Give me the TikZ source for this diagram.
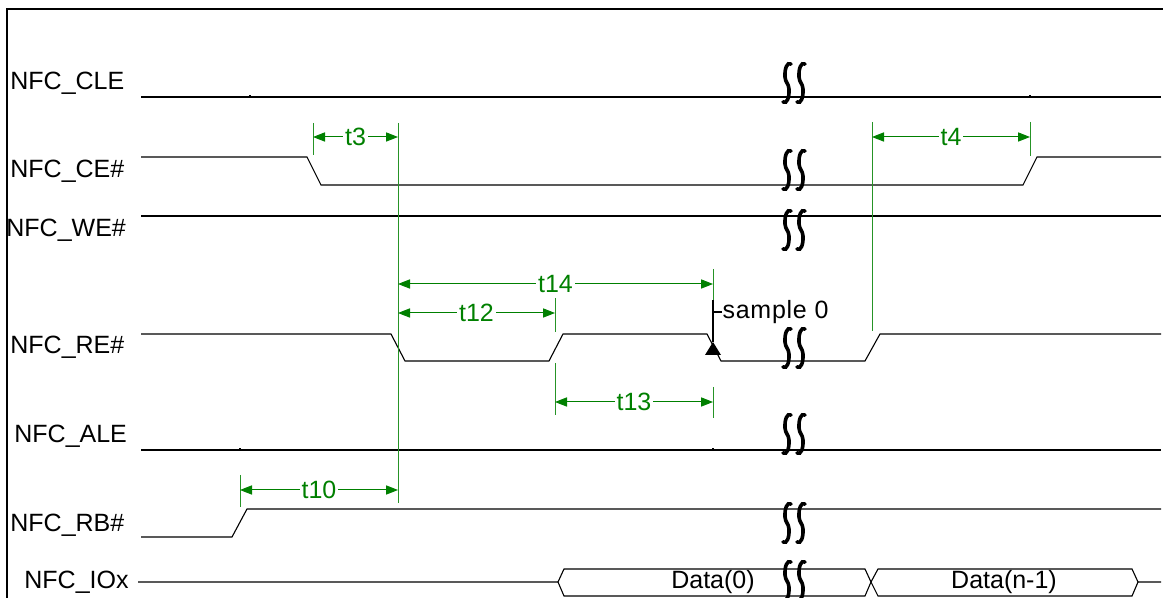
\documentclass[tikz,border=0pt]{standalone}
\usepackage{fontspec}
\setmainfont{Liberation Sans}
\usetikzlibrary{arrows.meta}
\definecolor{dimgreen}{RGB}{0,128,0}
\tikzset{
  sig/.style={black, line width=0.55pt},
  siglbl/.style={anchor=base west, inner sep=0pt, font=\fontsize{12.5}{14}\selectfont},
  dim/.style={dimgreen, line width=0.5pt, {Triangle[length=6pt,width=4.6pt]}-{Triangle[length=6pt,width=4.6pt]}},
  dimlbl/.style={midway, fill=white, inner sep=1pt, text=dimgreen, font=\fontsize{12.5}{14}\selectfont},
  reftick/.style={dimgreen!85, line width=0.5pt},
  pics/brk/.style={code={
    \draw[line width=1.8pt, line cap=round] (4,1) .. controls (0,-1.5) and (-2.5,6) .. (-2,14)
      .. controls (-1.5,20) and (1.5,20) .. (2,26) .. controls (2.5,34) and (0,41.5) .. (-4,39);
    \draw[line width=1.8pt, line cap=round, shift={(14,0)}] (4,1) .. controls (0,-1.5) and (-2.5,6) .. (-2,14)
      .. controls (-1.5,20) and (1.5,20) .. (2,26) .. controls (2.5,34) and (0,41.5) .. (-4,39);
  }}
}
\begin{document}
\begin{tikzpicture}[x=0.5pt, y=-0.5pt]
  \useasboundingbox (0,0) rectangle (1163,598);
  \draw[line width=1.3pt] (7,598) -- (7,9) -- (1163,9);

  % signal names
  \node[siglbl] (cle) at (10,90)  {NFC\_CLE};
  \node[siglbl] (ce)  at (10,178) {NFC\_CE\#};
  \node[siglbl] (we)  at (6,237)  {NFC\_WE\#};
  \node[siglbl] (re)  at (10,354) {NFC\_RE\#};
  \node[siglbl] (ale) at (14,443) {NFC\_ALE};
  \node[siglbl] (rb)  at (10,532) {NFC\_RB\#};
  \node[siglbl] (iox) at (24,589) {NFC\_IOx};

  % waveforms
  \begin{scope}[sig]
    \draw (141,97) -- (1161,97);
    \draw (141,157) -- (307,157) -- (321,185) -- (1023,185) -- (1037,157) -- (1161,157);
    \draw (141,216) -- (1161,216);
    \draw (141,334) -- (391,334) -- (405,361) -- (549,361) -- (563,334) -- (707,334)
      -- (721,361) -- (865,361) -- (880,334) -- (1161,334);
    \draw (141,450) -- (1161,450);
    \draw (141,537) -- (232,537) -- (247,509) -- (1161,509);
    \draw (138,582) -- (558,582) -- (564,569) -- (865,569) -- (871,582) -- (878,569)
      -- (1132,569) -- (1138,582) -- (1161,582);
    \draw (558,582) -- (564,596) -- (865,596) -- (871,582) -- (878,596) -- (1132,596) -- (1138,582);
    \draw (250,97) -- +(0,-2);
    \draw (1030,97) -- +(0,-2);
    \draw (240,450) -- +(0,-2);
    \draw (713,450) -- +(0,-2);
  \end{scope}
  \node[font=\fontsize{12.5}{14}\selectfont] (d0) at (713,582) {Data(0)};
  \node[font=\fontsize{12.5}{14}\selectfont] (dn) at (1004,582) {Data(n-1)};

  % breaks
  \pic at (787,63)  {brk};
  \pic at (787,150) {brk};
  \pic at (787,210) {brk};
  \pic at (787,328) {brk};
  \pic at (787,414) {brk};
  \pic at (787,503) {brk};
  \pic at (787,561) {brk};

  % reference lines
  \draw[reftick] (313,123) -- (313,155);
  \draw[reftick] (398,123) -- (398,503);
  \draw[reftick] (872,122) -- (872,331);
  \draw[reftick] (1030,122) -- (1030,156);
  \draw[reftick] (713,269) -- (713,300);
  \draw[reftick] (555,298) -- (555,332);
  \draw[reftick] (555,363) -- (555,415);
  \draw[reftick] (713,387) -- (713,418);
  \draw[reftick] (240,475) -- (240,507);

  % timings
  \draw[dim] (313,137) -- node[dimlbl] {t3} (398,137);
  \draw[dim] (872,137) -- node[dimlbl] {t4} (1030,137);
  \draw[dim] (398,284) -- node[dimlbl] {t14} (713,284);
  \draw[dim] (398,313) -- node[dimlbl] {t12} (555,313);
  \draw[dim] (555,402) -- node[dimlbl] {t13} (713,402);
  \draw[dim] (240,490) -- node[dimlbl] {t10} (398,490);

  % sample point
  \coordinate (smp) at (713,342);
  \draw[sig] (713,300) -- (smp);
  \fill (smp) -- (721,355) -- (705,355) -- cycle;
  \draw[sig] (713,312) -- (722,312) node[anchor=west, inner sep=0pt, font=\fontsize{12.5}{14}\selectfont\addfontfeature{LetterSpace=3}] (s0) {sample 0};
\end{tikzpicture}
\end{document}
